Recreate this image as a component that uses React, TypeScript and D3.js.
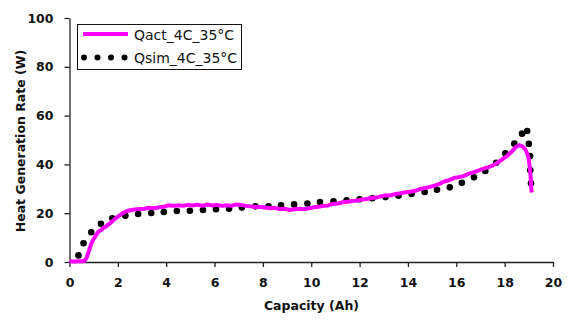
import React, {useRef, useEffect} from "react"
import * as d3 from "d3"

// measured heat generation (magenta line)
const qactCap = [0, 0.2, 0.4, 0.6, 0.7, 0.8, 0.9, 1.0, 1.1, 1.2, 1.3, 1.4, 1.5, 1.6, 1.7, 1.8, 1.9, 2.0, 2.1, 2.2, 2.35, 2.5, 2.7, 2.9, 3.1, 3.3, 3.5, 3.7, 3.9, 4.1, 4.3, 4.5, 4.7, 4.9, 5.1, 5.3, 5.5, 5.7, 5.9, 6.1, 6.3, 6.5, 6.7, 6.9, 7.1, 7.3, 7.5, 7.7, 7.9, 8.1, 8.3, 8.5, 8.7, 8.9, 9.1, 9.3, 9.5, 9.7, 9.9, 10.1, 10.3, 10.5, 10.7, 10.9, 11.1, 11.3, 11.5, 11.7, 11.9, 12.1, 12.3, 12.5, 12.7, 12.9, 13.1, 13.3, 13.5, 13.7, 13.9, 14.1, 14.3, 14.5, 14.7, 14.9, 15.1, 15.3, 15.5, 15.7, 15.9, 16.1, 16.3, 16.5, 16.7, 16.9, 17.1, 17.3, 17.5, 17.7, 17.9, 18.1, 18.3, 18.45, 18.6, 18.75, 18.85, 18.95, 19.0, 19.05, 19.08, 19.1, 19.12]
const qactHeat = [0.3, 0.2, 0.3, 0.3, 1.5, 4.5, 7.5, 9.5, 11, 12.5, 13, 14, 14.5, 15.3, 16, 17, 17.8, 18.6, 19.3, 20, 20.8, 21.2, 21.5, 21.7, 21.8, 22.2, 22.0, 22.4, 22.6, 23.3, 23.0, 23.3, 23.0, 23.4, 23.2, 23.5, 23.0, 23.6, 23.2, 23.4, 23.0, 23.3, 23.0, 23.6, 23.4, 23.0, 22.8, 22.5, 22.5, 22.3, 22.0, 22.2, 21.7, 21.8, 21.3, 21.6, 21.8, 21.6, 22.0, 22.4, 22.6, 23.0, 23.2, 23.8, 24.0, 24.5, 24.7, 25.0, 25.2, 25.6, 25.8, 26.2, 26.4, 27.0, 27.3, 27.4, 27.9, 28.2, 28.6, 28.8, 29.2, 29.9, 30.3, 30.8, 31.3, 32.0, 33.0, 33.5, 34.4, 34.8, 35.2, 36.2, 36.7, 37.4, 38.2, 38.8, 39.5, 40.7, 42.0, 43.5, 45.3, 47.0, 47.9, 47.3, 46.2, 44, 42, 38, 34, 30, 28.5]

// simulated heat generation (black dots)
const qsimCap = [0.37, 0.58, 0.9, 1.3, 1.77, 2.31, 2.84, 3.38, 3.9, 4.44, 4.98, 5.52, 6.06, 6.6, 7.13, 7.69, 8.23, 8.75, 9.29, 9.84, 10.36, 10.92, 11.46, 12.0, 12.53, 13.07, 13.61, 14.15, 14.69, 15.2, 15.73, 16.23, 16.73, 17.2, 17.65, 18.03, 18.4, 18.72, 18.93, 19.0, 19.05, 19.06, 19.09]
const qsimHeat = [2.7, 7.7, 12.2, 15.7, 17.9, 19.0, 19.7, 20.1, 20.5, 20.9, 21.0, 21.3, 21.6, 21.8, 22.3, 22.8, 22.8, 23.2, 23.6, 24.0, 24.6, 24.9, 25.3, 25.7, 26.1, 26.6, 27.2, 27.9, 28.7, 29.6, 30.6, 32.5, 34.7, 37.3, 40.7, 44.5, 48.5, 52.6, 53.7, 48.4, 43.4, 37.6, 32.3]

const xTicks = [0, 2, 4, 6, 8, 10, 12, 14, 16, 18, 20]
const yTicks = [0, 20, 40, 60, 80, 100]
const seriesNames = ["Qact_4C_35°C", "Qsim_4C_35°C"]

const font = "'DejaVu Sans', Verdana, sans-serif"

const App = () => {

    let element = useRef(null)

    useEffect(() => {
        let margin = {top: 18, right: 20, bottom: 62, left: 69.5},
            width = 553 - margin.left,
            height = 262 - margin.top

        let svg = d3.select(element.current)
            .append("g")
                .attr("transform", "translate(" + margin.left + "," + margin.top + ")")

        let x = d3.scaleLinear().domain([0, 20]).range([0, width])
        let y = d3.scaleLinear().domain([0, 100]).range([height, 0])

        // axes
        svg.append("g")
            .attr("transform", "translate(0," + height + ")")
            .call(d3.axisBottom(x).tickValues(xTicks).tickSize(5).tickPadding(11).tickSizeOuter(0))
        svg.append("g")
            .call(d3.axisLeft(y).tickValues(yTicks).tickSize(5).tickPadding(11).tickSizeOuter(0))

        svg.selectAll(".domain").attr("stroke", "#222").attr("stroke-width", 1.3)
        svg.selectAll(".tick line").attr("stroke", "#222").attr("stroke-width", 1.3)
        svg.selectAll(".tick text")
            .attr("font-family", font)
            .attr("font-weight", "bold")
            .attr("font-size", 12.5)
            .attr("fill", "#111")

        // simulated dots
        svg.append("g")
            .selectAll("circle")
            .data(qsimCap)
            .enter()
                .append("circle")
                .attr("cx", d => x(d))
                .attr("cy", (d, i) => y(qsimHeat[i]))
                .attr("r", 3.3)
                .attr("fill", "#000")

        // measured line
        const line = d3.line()
            .x(d => x(d[0]))
            .y(d => y(d[1]))
        svg.append("path")
            .datum(qactCap.map((c, i) => [c, qactHeat[i]]))
            .attr("d", line)
            .attr("fill", "none")
            .attr("stroke", "#ff00ff")
            .attr("stroke-width", 4)
            .attr("stroke-linejoin", "round")

        // axis titles
        svg.append("text")
            .attr("x", 311.5 - margin.left)
            .attr("y", 309.5 - margin.top)
            .attr("text-anchor", "middle")
            .attr("font-family", font)
            .attr("font-weight", "bold")
            .attr("font-size", 12.5)
            .attr("fill", "#111")
            .text("Capacity (Ah)")

        svg.append("text")
            .attr("transform", "translate(" + (24.5 - margin.left) + "," + (141 - margin.top) + ") rotate(-90)")
            .attr("text-anchor", "middle")
            .attr("font-family", font)
            .attr("font-weight", "bold")
            .attr("font-size", 12.5)
            .attr("fill", "#111")
            .text("Heat Generation Rate (W)")

        // legend
        let legend = d3.select(element.current).append("g")
        legend.append("rect")
            .attr("x", 77.5).attr("y", 24.5)
            .attr("width", 164).attr("height", 45)
            .attr("fill", "#fff")
            .attr("stroke", "#111")
            .attr("stroke-width", 1)
        legend.append("line")
            .attr("x1", 83).attr("x2", 128)
            .attr("y1", 34).attr("y2", 34)
            .attr("stroke", "#ff00ff")
            .attr("stroke-width", 4)
        legend.append("g")
            .selectAll("circle")
            .data([84, 97.5, 111, 124.5])
            .enter()
                .append("circle")
                .attr("cx", d => d)
                .attr("cy", 57.5)
                .attr("r", 3)
                .attr("fill", "#000")
        legend.selectAll("text")
            .data(seriesNames)
            .enter()
                .append("text")
                .attr("x", 134)
                .attr("y", (d, i) => 39.5 + i * 23.5)
                .attr("font-family", font)
                .attr("font-size", 14)
                .attr("fill", "#111")
                .text(d => d)

        return () => {
            if (element.current) {
                Array.from(element.current.children).forEach(child => child.remove())
            }
        }
    }, [])

    return (
        <svg ref={element} width={573} height={324}
            style={{position: "absolute", left: 0, top: 0, background: "#fff"}}></svg>
    )
}

export default App
